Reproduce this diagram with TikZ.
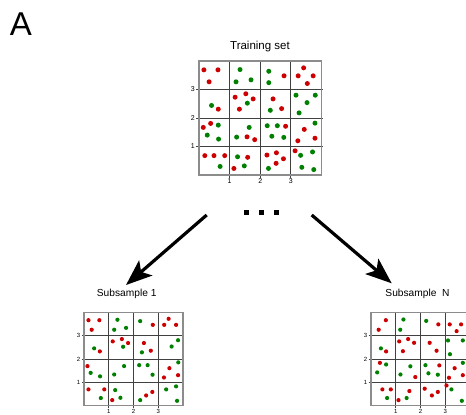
\documentclass[tikz,border=0pt]{standalone}
\usepackage{fontspec}
\setmainfont{Liberation Sans}
\usetikzlibrary{arrows.meta}

\definecolor{dotred}{RGB}{204,0,0}
\definecolor{dotgreen}{RGB}{0,128,0}

\begin{document}
\begin{tikzpicture}[
    x=1pt, y=-1pt,
    frame/.style={draw=black!45, line width=1.2pt},
    gridline/.style={draw=black!75, line width=0.8pt},
    tick/.style={inner sep=1pt, font=\fontsize{7}{8}\selectfont},
    subtick/.style={inner sep=1pt, font=\fontsize{6}{7}\selectfont},
    title/.style={inner sep=1pt, font=\fontsize{11.5}{13}\selectfont},
    subtitle/.style={inner sep=1pt, font=\fontsize{10.2}{12}\selectfont},
    reddot/.style={fill=dotred},
    greendot/.style={fill=dotgreen},
    bigarrow/.style={line width=3.2pt, -{Stealth[length=26pt, width=20pt, inset=6pt]}}
]
\useasboundingbox (0,0) rectangle (466,415);

% Panel letter
\node[font=\fontsize{33}{36}\selectfont] (panel) at (21,24) {A};

% Training set
\node[title] (train) at (260,46.7) {Training set};
\begin{scope}[shift={(199,175)}, x=30.6pt, y=28.5pt]
  \foreach \k in {1,2,3} {
    \draw[gridline] (-0.1,\k) -- (4.05,\k);
    \draw[gridline] (\k,-0.1) -- (\k,4);
    \node[tick, left] (train-y\k) at (-0.1,\k) {\k};
    \node[tick, below] (train-x\k) at (\k,-0.1) {\k};
  }
  \draw[frame] (0,0) rectangle (4,4);
  \foreach \p in {(0.16,3.69),(0.62,3.69),(0.33,3.27),(2.78,3.48),(3.42,3.76),(3.24,3.48),(3.73,3.48),(3.54,3.21),
                  (0.63,2.31),(1.18,2.73),(1.53,2.85),(1.77,2.67),(1.32,2.31),(2.42,2.67),(2.70,2.33),
                  (0.14,1.67),(0.38,1.81),(1.57,1.34),(1.82,1.24),(2.83,1.71),(3.44,1.60),(3.23,1.20),(3.79,1.29),
                  (0.19,0.68),(0.49,0.68),(0.84,0.68),(1.59,0.62),(1.14,0.23),(2.22,0.70),(2.53,0.78),(2.76,0.57),(2.52,0.41),(3.14,0.85)}
    \fill[reddot] \p circle (2.5pt);
  \foreach \p in {(1.34,3.70),(1.21,3.27),(1.70,3.34),(2.28,3.64),(2.28,3.24),
                  (0.41,2.44),(1.58,2.52),(2.33,2.27),(3.17,2.80),(3.80,2.80),(3.53,2.54),(3.27,2.18),
                  (0.63,1.75),(0.27,1.40),(0.64,1.26),(1.64,1.67),(1.23,1.33),(2.23,1.73),(2.56,1.73),(2.38,1.36),(2.77,1.32),(3.79,1.82),
                  (0.69,0.30),(1.26,0.64),(1.48,0.32),(2.27,0.23),(3.32,0.69),(3.71,0.81),(3.36,0.27),(3.75,0.19)}
    \fill[greendot] \p circle (2.5pt);
\end{scope}

% Dots between the arrows
\foreach \x [count=\i] in {246.7,261,276}
  \node[fill=black, inner sep=0pt, minimum size=5pt] (more\i) at (\x,212.7) {};

% Arrows
\coordinate (lstart) at (206.7,215);
\coordinate (lend) at (126,285);
\coordinate (rstart) at (311.7,215);
\coordinate (rend) at (391.7,283.3);
\draw[bigarrow] (lstart) -- (lend);
\draw[bigarrow] (rstart) -- (rend);

% Subsample 1
\node[subtitle] (sub1) at (126.7,294) {Subsample 1};
\begin{scope}[shift={(84,405.7)}, x=24.75pt, y=23.3pt]
  \foreach \k in {1,2,3} {
    \draw[gridline] (-0.1,\k) -- (4.05,\k);
    \draw[gridline] (\k,-0.1) -- (\k,4);
    \node[subtick, left] (sub1-y\k) at (-0.1,\k) {\k};
    \node[subtick, below] (sub1-x\k) at (\k,-0.1) {\k};
  }
  \draw[frame] (0,0) rectangle (4,4);
  \foreach \p in {(0.18,3.67),(0.62,3.67),(0.31,3.26),(2.78,3.47),(3.42,3.73),(3.24,3.47),(3.72,3.47),
                  (0.64,2.33),(1.16,2.76),(1.53,2.86),(1.78,2.69),(2.42,2.69),(2.70,2.36),
                  (0.14,1.70),(3.45,1.61),(3.23,1.21),(3.80,1.31),
                  (0.18,0.70),(0.82,0.70),(1.14,0.24),(2.51,0.44),(2.76,0.59)}
    \fill[reddot] \p circle (2.1pt);
  \foreach \p in {(1.35,3.69),(1.22,3.26),(1.70,3.34),(2.27,3.63),
                  (0.41,2.46),(1.58,2.53),(2.34,2.29),(3.80,2.81),(3.54,2.54),
                  (0.27,1.41),(0.65,1.26),(1.62,1.70),(1.22,1.34),(2.23,1.74),(2.57,1.74),(2.77,1.33),(3.81,1.86),
                  (0.68,0.33),(1.26,0.67),(1.47,0.34),(2.27,0.24),(3.32,0.70),(3.72,0.83),(3.76,0.21)}
    \fill[greendot] \p circle (2.1pt);
\end{scope}

% Subsample N
\node[subtitle] (subN) at (417.5,294) {Subsample\ \ N};
\begin{scope}[shift={(371,405.7)}, x=24.75pt, y=23.3pt]
  \foreach \k in {1,2,3} {
    \draw[gridline] (-0.1,\k) -- (4.05,\k);
    \draw[gridline] (\k,-0.1) -- (\k,4);
    \node[subtick, left] (subN-y\k) at (-0.1,\k) {\k};
    \node[subtick, below] (subN-x\k) at (\k,-0.1) {\k};
  }
  \draw[frame] (0,0) rectangle (4,4);
  \foreach \p in {(0.60,3.67),(0.31,3.26),(2.72,3.49),(3.18,3.49),(3.64,3.49),(3.46,3.20),
                  (0.61,2.33),(1.14,2.76),(1.50,2.86),(1.74,2.70),(1.29,2.34),(2.37,2.70),(2.65,2.36),
                  (0.36,1.84),(1.79,1.23),(2.76,1.73),(3.38,1.61),(3.15,1.20),(3.71,1.31),
                  (0.46,0.70),(0.80,0.70),(1.55,0.63),(1.11,0.24),(2.17,0.73),(2.46,0.44),(2.70,0.59),(3.05,0.87)}
    \fill[reddot] \p circle (2.1pt);
  \foreach \p in {(1.31,3.70),(1.18,3.26),(2.23,3.64),
                  (0.40,2.46),(3.11,2.80),(3.71,2.80),(3.19,2.21),
                  (0.61,1.77),(0.25,1.43),(1.59,1.69),(1.19,1.34),(2.20,1.74),(2.32,1.39),(2.70,1.33),(3.71,1.84),
                  (0.65,0.33),(1.44,0.33),(3.25,0.70),(3.67,0.21)}
    \fill[greendot] \p circle (2.1pt);
\end{scope}

\end{tikzpicture}
\end{document}
